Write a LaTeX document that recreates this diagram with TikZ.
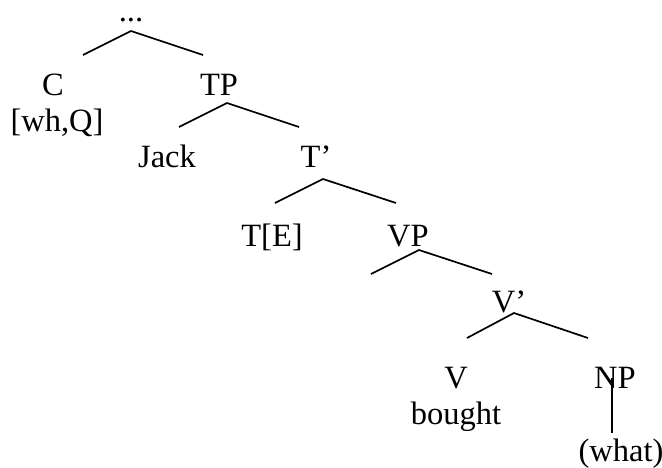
\documentclass[tikz,border=0pt]{standalone}
\usepackage{fontspec}
\setmainfont{Liberation Serif}
\begin{document}
\begin{tikzpicture}[x=1pt,y=-1pt,
  lab/.style={anchor=base,inner sep=0pt,outer sep=0pt,font=\fontsize{32.5}{39}\selectfont},
  branch/.style={line width=1.7pt,line cap=butt}]
\useasboundingbox (0,0) rectangle (662,467);
% labels
\node[lab,text height=4pt] (top) at (131,21) {...};
\node[lab] (C) at (53,95) {C};
\node[lab] (whQ) at (57,131) {[wh,Q]};
\node[lab] (TP) at (219,95) {TP};
\node[lab] (Jack) at (167,167) {Jack};
\node[lab] (Tbar) at (316,167) {T’};
\node[lab] (TE) at (272,246) {T[E]};
\node[lab] (VP) at (408,246) {VP};
\node[lab] (Vbar) at (509,312) {V’};
\node[lab] (V) at (456,388) {V};
\node[lab] (bought) at (456,424) {bought};
\node[lab] (NP) at (615,388) {NP};
\node[lab] (what) at (621,461) {(what)};
% branch points
\coordinate (a1) at (131,31); \coordinate (l1) at (83,55); \coordinate (r1) at (203,55);
\coordinate (a2) at (227,103); \coordinate (l2) at (179,127); \coordinate (r2) at (299,127);
\coordinate (a3) at (323,179); \coordinate (l3) at (275,203); \coordinate (r3) at (396,203);
\coordinate (a4) at (419,250); \coordinate (l4) at (371,274); \coordinate (r4) at (492,274);
\coordinate (a5) at (514,313); \coordinate (l5) at (467,338); \coordinate (r5) at (588,338);
\coordinate (np1) at (612,378); \coordinate (np2) at (612,433);
\draw[branch] (l1) -- (a1) -- (r1);
\draw[branch] (l2) -- (a2) -- (r2);
\draw[branch] (l3) -- (a3) -- (r3);
\draw[branch] (l4) -- (a4) -- (r4);
\draw[branch] (l5) -- (a5) -- (r5);
\draw[branch] (np1) -- (np2);
\end{tikzpicture}
\end{document}
